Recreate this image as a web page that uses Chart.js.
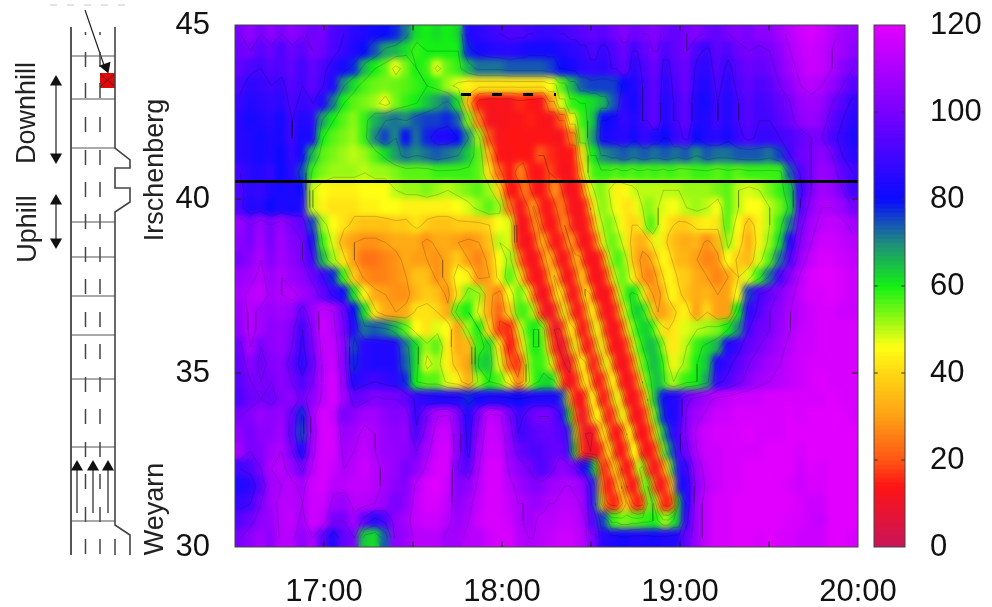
<!DOCTYPE html>
<html lang="en">
<head>
<meta charset="UTF-8" />
<title>Speed over time and location</title>
<script src="https://cdn.jsdelivr.net/npm/chart.js@4"></script>
<style>
  body { margin: 0; background: #fff; }
  #wrap { position: relative; width: 992px; height: 607px; overflow: hidden; }
  canvas { position: absolute; left: 0; top: 0; }
</style>
</head>
<body>
<div id="wrap">
  <canvas id="road" width="992" height="607"></canvas>
  <canvas id="main" width="992" height="607"></canvas>
  <canvas id="bar" width="992" height="607"></canvas>
</div>
<script>
// x axis in minutes after midnight
const timeTicks = [1020, 1080, 1140, 1200];
const kmTicks = [30, 35, 40, 45];
const colorTicks = [0, 20, 40, 60, 80, 100, 120];
const minorTimeTicks = [1020, 1050, 1080, 1110, 1140, 1170];
const colMinutes = [];
for (let i = 0; i < 60; i++) colMinutes.push(991.75 + 3.5 * i);
const rowKm = [44.75, 44.25, 43.75, 43.25, 42.75, 42.25, 41.75, 41.25, 40.75, 40.25, 39.75, 39.25, 38.75, 38.25, 37.75,
               37.25, 36.75, 36.25, 35.75, 35.25, 34.75, 34.25, 33.75, 33.25, 32.75, 32.25, 31.75, 31.25, 30.75, 30.25];

// speed in km/h, one row per rowKm entry, 60 columns
const speeds = [
  [100,105,100,104,100,104,101,98,100,92, 90,86,84,82,80,78,72,62,60,62, 60,62,84,86,88,90,92,92,90,88, 88,90,92,94,96,94,98,102,98,100, 102,98,96,100,102,98,96,100,102,100, 104,104,108,112,116,118,116,112,108,106],
  [98,100,94,98,92,98,94,100,98,92, 88,84,80,75,68,66,62,58,60,60, 60,60,78,82,84,85,86,84,82,82, 82,84,86,88,92,88,92,98,90,96, 100,92,96,100,92,88,96,92,98,100, 98,100,104,110,114,116,114,110,108,104],
  [96,92,90,94,92,96,90,96,92,86, 82,78,66,60,56,47,54,60,58,48, 55,58,66,72,72,72,74,74,74,74, 76,80,82,86,88,86,90,96,86,92, 98,88,94,98,88,86,94,88,94,98, 96,98,102,108,112,116,114,110,104,100],
  [92,86,88,90,88,94,90,96,90,84, 70,62,57,55,54,55,56,58,60,58, 52,48,44,42,42,42,42,42,42,42, 46,56,66,74,76,76,76,80,84,90, 96,86,92,98,86,84,92,86,92,96, 92,94,100,104,110,112,110,106,100,94],
  [88,84,86,88,86,92,88,90,84,72, 60,56,54,52,47,54,58,60,64,68, 72,62,36,15,12,13,12,16,14,12, 28,48,58,60,62,66,74,86,82,90, 96,84,90,96,84,82,90,84,90,94, 90,92,96,100,106,108,106,100,94,88],
  [86,82,84,86,82,90,84,86,68,60, 56,53,58,66,70,72,70,74,76,76, 78,74,54,26,12,12,13,13,15,13, 12,20,44,58,64,80,82,88,84,90, 96,84,90,96,84,84,90,84,90,94, 90,90,94,98,104,106,104,96,90,86],
  [86,84,82,84,82,90,82,84,60,56, 54,52,58,70,76,70,80,72,78,84, 84,80,70,52,20,12,14,14,13,14, 13,12,24,54,68,82,84,86,82,88, 84,80,88,92,80,84,86,82,88,92, 88,88,90,92,96,100,100,92,88,84],
  [86,84,82,84,80,88,82,66,56,54, 52,50,52,56,62,68,72,70,72,74, 72,70,64,56,34,14,13,14,14,20, 16,13,14,40,60,70,72,74,72,74, 72,74,72,74,70,74,72,72,74,74, 74,72,76,90,98,100,104,100,90,86],
  [90,86,84,88,80,86,76,58,54,52, 52,52,50,52,52,54,56,56,56,58, 58,58,58,56,42,22,14,30,14,16, 26,14,12,24,50,58,58,56,58,58, 58,56,58,56,58,58,56,58,56,58, 58,58,58,74,92,100,106,104,96,90],
  [92,86,88,84,82,84,80,50,46,44, 44,44,46,46,46,50,52,52,54,52, 50,52,54,56,52,40,14,13,30,16, 30,34,14,13,38,54,48,44,48,50, 50,50,50,52,52,52,54,56,50,48, 50,54,58,64,88,100,108,106,100,90],
  [92,84,86,80,84,82,84,50,44,42, 42,42,44,44,46,46,44,44,44,44, 44,46,48,52,56,52,24,12,26,14, 14,24,13,14,36,54,50,44,42,48, 50,48,46,50,52,50,46,56,50,46, 46,50,54,62,92,104,110,110,106,100],
  [106,100,106,100,106,100,96,76,52,46, 42,38,36,36,36,38,38,42,38,36, 36,38,38,38,40,46,48,22,13,26, 14,22,14,12,24,46,54,48,40,44, 54,46,40,38,42,44,42,56,46,36, 44,50,58,72,98,108,112,114,112,108],
  [104,100,108,100,108,102,100,84,58,48, 34,30,28,28,30,32,32,32,28,32, 32,30,28,30,36,50,48,28,12,18, 24,14,26,13,14,42,56,50,42,32, 42,48,38,32,34,28,34,52,44,32, 44,52,62,84,102,110,116,116,114,112],
  [100,104,110,102,108,104,100,90,66,52, 42,30,24,24,26,28,32,30,30,28, 32,38,30,26,32,46,52,40,14,12, 26,13,14,28,12,26,50,56,38,28, 34,46,44,34,30,26,28,46,38,34, 48,56,72,92,106,114,118,118,116,114],
  [106,108,112,106,110,106,104,98,90,78, 58,38,28,26,26,28,30,36,36,28, 32,46,44,28,30,44,56,50,16,12, 14,28,12,30,14,14,44,56,44,26, 28,38,46,38,32,30,26,30,40,48, 58,72,90,102,112,118,120,120,118,116],
  [108,112,114,108,110,112,108,104,96,88, 82,62,44,32,30,28,28,34,38,36, 28,42,54,52,32,26,46,56,46,14, 12,26,13,32,20,13,36,58,62,44, 30,32,44,36,32,34,30,30,46,76, 90,96,102,108,114,118,118,120,118,116],
  [106,112,108,106,108,106,96,106,114,110, 98,80,62,42,32,30,32,42,42,40, 32,56,60,48,32,22,38,56,54,24, 11,14,30,14,30,14,16,44,64,60, 36,30,38,44,30,40,30,30,60,86, 92,100,104,110,112,116,118,118,116,116],
  [104,112,108,104,106,102,90,102,116,112, 100,84,72,74,72,66,56,46,42,48, 46,30,52,60,40,18,16,46,60,40, 9,10,26,14,28,36,14,24,54,66, 52,44,44,48,50,52,54,60,70,90, 98,100,106,110,114,116,118,118,118,118],
  [98,110,100,104,106,100,88,100,114,114, 104,76,86,84,84,84,72,62,52,56, 44,32,34,58,62,42,14,36,58,60, 36,9,12,30,14,38,16,14,46,66, 72,58,44,50,58,62,66,84,88,96, 100,104,108,112,116,116,118,118,118,118],
  [96,104,98,102,104,96,86,96,112,116, 104,78,86,84,84,84,74,62,48,52, 44,36,30,62,64,48,22,20,56,58, 50,28,10,30,14,22,36,13,30,64, 72,62,44,52,60,64,84,88,94,100, 104,108,110,114,116,118,118,118,118,118],
  [94,100,100,100,104,100,92,100,112,118, 106,84,88,90,88,86,78,60,56,56, 48,44,32,52,60,56,44,30,52,60, 62,40,12,12,28,14,36,18,20,56, 64,62,50,58,60,68,88,92,98,104, 108,110,112,114,116,118,120,118,118,118],
  [92,98,100,98,102,104,98,104,112,118, 108,96,98,102,100,100,96,88,86,84, 84,84,78,82,84,84,82,80,84,84, 84,68,20,11,40,22,14,38,15,28, 64,80,82,98,104,108,112,114,116,116, 116,118,118,118,118,118,118,120,118,118],
  [100,102,106,104,106,98,78,108,118,116, 100,104,108,108,104,102,104,88,100,110, 112,102,84,100,114,112,100,88,96,100, 100,86,30,10,24,38,14,36,22,13, 50,80,84,102,108,112,116,116,118,118, 118,118,118,120,118,120,120,120,120,118],
  [104,100,104,104,108,96,76,106,118,118, 106,108,112,110,106,104,106,92,104,114, 116,104,86,104,116,114,104,90,94,96, 98,94,56,14,9,42,20,16,36,14, 28,66,84,102,112,116,118,118,118,120, 118,118,118,120,120,120,120,120,120,120],
  [108,100,102,108,110,100,84,108,118,118, 108,110,114,110,106,106,104,100,108,116, 118,104,88,108,116,116,106,98,90,94, 96,96,68,28,11,16,34,13,40,18, 20,52,76,98,110,116,116,118,118,118, 118,120,120,120,118,120,120,120,120,120],
  [90,92,100,110,112,106,98,112,118,116, 110,112,116,112,108,106,100,104,112,118, 118,100,94,110,118,118,108,102,92,92, 100,104,100,84,70,16,40,14,14,56, 18,14,52,88,106,114,116,118,118,120, 120,120,120,120,116,120,118,120,120,120],
  [84,86,94,108,110,112,108,116,118,112, 112,114,114,112,108,104,102,112,118,120, 116,102,104,112,118,118,112,106,100,104, 106,108,110,106,90,30,12,40,12,48, 50,12,34,84,104,112,116,118,118,120, 120,120,120,118,116,118,118,120,120,120],
  [88,90,100,108,112,112,110,116,116,108, 106,112,112,110,106,100,104,114,118,118, 114,104,108,114,118,118,114,108,104,110, 108,112,112,110,90,60,18,44,16,24, 56,20,24,84,106,114,118,118,120,120, 120,120,120,120,118,116,116,120,120,120],
  [94,98,104,106,112,114,108,116,114,100, 100,108,96,86,92,104,108,114,116,116, 112,106,110,116,118,118,116,110,108,112, 112,114,114,110,94,76,58,54,56,58, 60,52,62,88,106,114,118,118,120,120, 120,120,120,118,118,116,114,120,120,120],
  [100,104,108,104,112,112,104,110,96,84, 96,100,64,62,74,104,106,112,112,112, 108,108,112,112,116,118,118,112,110,112, 114,116,116,112,102,86,84,82,84,84, 82,84,84,96,106,114,118,118,120,120, 118,120,118,118,116,116,116,120,120,118]
];

// the jam stripes read at double resolution: rows 8..27, columns 27..42 split in two
const fineFirstRow = 8;
const fineFirstCol = 27;
const fineLastCol = 42;
const fineSpeeds = [
  [24,28,16,13,13,14,20,17,13,12,12,14,26,46,54,58, 58,58,58,56,58,58,56,58,58,56,58,58,56,58,58,56],
  [14,24,26,14,13,13,18,30,26,13,12,12,14,30,46,52, 54,52,48,44,44,46,48,50,50,50,50,50,50,50,50,50],
  [12,12,20,32,20,13,13,16,26,24,13,12,12,14,32,46, 54,52,50,46,44,42,42,46,50,54,52,50,48,47,46,47],
  [12,12,13,22,32,16,13,13,18,30,20,12,12,13,18,38, 48,54,54,50,46,42,40,40,44,54,58,50,46,42,40,38],
  [16,12,12,13,26,36,20,13,13,18,30,26,13,12,13,20, 40,50,56,54,50,44,38,34,32,36,42,48,44,38,36,34],
  [34,18,13,12,13,24,38,26,13,12,16,32,34,14,12,12, 14,34,50,58,56,50,40,32,28,28,32,40,46,44,38,34],
  [48,36,18,13,12,14,26,42,28,13,12,16,36,36,14,12, 12,16,36,50,56,54,46,38,30,26,26,32,40,46,44,38],
  [56,54,46,26,12,11,13,28,46,32,13,12,18,42,40,14, 12,12,14,34,50,58,62,60,48,36,30,28,32,42,46,42],
  [56,58,56,50,28,13,10,11,26,48,30,13,12,20,44,42, 16,12,12,16,36,50,60,64,62,56,40,30,30,34,38,42],
  [40,50,58,60,60,52,24,10,9,20,46,40,14,12,24,48, 42,16,12,12,16,38,50,60,62,64,60,50,42,40,42,44],
  [26,44,54,60,60,56,40,16,9,9,24,48,34,13,12,26, 48,36,14,12,12,16,38,52,60,64,66,62,54,44,42,44],
  [14,26,50,58,58,58,52,40,16,10,9,20,44,44,16,12, 26,48,40,14,12,12,18,40,54,60,66,64,60,50,44,48],
  [22,30,48,56,60,62,62,62,44,14,11,12,24,46,38,14, 12,22,46,42,14,12,12,20,42,56,62,66,62,54,50,54],
  [80,82,84,84,84,84,84,84,84,72,40,14,11,14,44,44, 14,12,26,48,42,14,12,12,20,42,60,70,80,84,84,84],
  [88,90,94,98,100,100,100,96,92,84,60,26,11,10,24,46, 44,16,12,26,48,42,14,12,12,22,48,62,78,84,84,82],
  [90,90,92,94,96,96,98,96,94,94,84,52,20,10,9,12, 34,46,16,12,14,42,46,14,12,14,26,50,64,76,86,88],
  [98,96,94,92,92,94,96,96,98,96,88,62,24,11,10,11, 13,32,44,14,12,16,46,46,14,12,14,24,52,66,76,88],
  [104,102,100,98,94,92,96,100,104,104,102,100,92,82,76,60, 22,13,26,44,18,12,14,46,56,24,12,12,22,44,66,86],
  [108,106,104,102,102,104,106,108,108,110,110,108,108,104,90,78, 40,14,13,26,42,18,12,14,48,60,30,12,12,20,44,80],
  [110,110,108,106,106,108,110,110,112,112,112,112,110,106,92,78, 50,22,16,14,28,42,22,14,16,50,62,40,16,14,22,60]
];

const contourLevels = [10, 20, 30, 40, 50, 60, 70, 80, 90, 100, 110];
const palette = [
  [0, 200, 20, 90], [14, 255, 20, 20], [20, 255, 85, 20], [30, 255, 160, 20], [40, 255, 215, 20], [46, 255, 255, 20],
  [60, 20, 240, 20], [70, 30, 140, 125], [80, 10, 10, 255], [100, 120, 0, 255], [120, 225, 0, 255]
];

// diagram on the left, in page pixels
const roadLeftEdge = [[71, 27], [71, 555]];
const roadRightEdge = [[115, 27], [115, 148], [130, 160], [130, 168], [115, 168], [115, 188], [130, 188], [130, 202], [115, 212], [115, 525], [130, 535], [130, 555]];
const crossBarY = [56, 99, 148, 222, 257, 296, 335, 379, 447, 521];
const dashYStart = [52, 83, 117, 150, 182, 214, 247, 279, 312, 344, 377, 409, 442, 474, 507, 539];
const laneX = [85.5, 100];
const sectionArrows = [[56, 76, 163], [56, 195, 248]];
const upArrowX = [77, 93, 108];
const roadLabels = ['Downhill', 'Uphill', 'Irschenberg', 'Weyarn'];
const roadLabelX = [35, 36, 163, 163];
const roadLabelY = [113, 229, 170, 509];

function speedColor(v) {
  let i = 0;
  while (i < palette.length - 2 && v > palette[i + 1][0]) i++;
  const a = palette[i], b = palette[i + 1];
  const t = Math.min(1, Math.max(0, (v - a[0]) / (b[0] - a[0])));
  const c = [1, 2, 3].map(k => Math.round(a[k] + (b[k] - a[k]) * t));
  return `rgb(${c[0]},${c[1]},${c[2]})`;
}

function flatten(segments) {
  const out = [];
  segments.forEach(s => {
    s.forEach(p => out.push({ x: p[0], y: p[1] }));
    out.push({ x: null, y: null });
  });
  return out;
}

// merge the coarse table and the fine one onto a single grid
const gridCols = [];
colMinutes.forEach((m, i) => {
  if (i < fineFirstCol || i > fineLastCol) gridCols.push({ x: m, half: 1.75, col: i, fine: -1 });
  else {
    const k = (i - fineFirstCol) * 2;
    gridCols.push({ x: m - 0.875, half: 0.875, col: i, fine: k });
    gridCols.push({ x: m + 0.875, half: 0.875, col: i, fine: k + 1 });
  }
});
const gridSpeeds = speeds.map((row, r) => gridCols.map(g => {
  const fr = fineSpeeds[r - fineFirstRow];
  return (g.fine >= 0 && fr) ? fr[g.fine] : row[g.col];
}));

// marching squares over the cell centres
function contourSegments() {
  const segs = [];
  const cross = (x1, y1, v1, x2, y2, v2, lv) => {
    const t = (lv - v1) / (v2 - v1);
    return [x1 + (x2 - x1) * t, y1 + (y2 - y1) * t];
  };
  contourLevels.forEach(lv => {
    for (let r = 0; r < gridSpeeds.length - 1; r++) {
      for (let c = 0; c < gridCols.length - 1; c++) {
        const x0 = gridCols[c].x, x1 = gridCols[c + 1].x, y0 = rowKm[r], y1 = rowKm[r + 1];
        const a = gridSpeeds[r][c], b = gridSpeeds[r][c + 1], d = gridSpeeds[r + 1][c], e = gridSpeeds[r + 1][c + 1];
        const pts = [];
        if ((a < lv) !== (b < lv)) pts.push(cross(x0, y0, a, x1, y0, b, lv));
        if ((b < lv) !== (e < lv)) pts.push(cross(x1, y0, b, x1, y1, e, lv));
        if ((e < lv) !== (d < lv)) pts.push(cross(x1, y1, e, x0, y1, d, lv));
        if ((d < lv) !== (a < lv)) pts.push(cross(x0, y1, d, x0, y0, a, lv));
        if (pts.length === 2) segs.push(pts);
        if (pts.length === 4) { segs.push([pts[0], pts[1]]); segs.push([pts[2], pts[3]]); }
      }
    }
  });
  return segs;
}

function tickSegments() {
  const segs = [];
  minorTimeTicks.forEach(t => { segs.push([[t, 30], [t, 30.15]]); segs.push([[t, 45], [t, 44.85]]); });
  [35, 40].forEach(k => { segs.push([[990, k], [992, k]]); segs.push([[1200, k], [1198, k]]); });
  return segs;
}

const cells = [];
gridSpeeds.forEach((row, r) => row.forEach((v, c) => {
  const g = gridCols[c];
  cells.push({ y: rowKm[r], x: [g.x - g.half, g.x + g.half], v: v });
}));

function line(data, color, width, extra) {
  return Object.assign({ type: 'scatter', data: data, showLine: true, borderColor: color, borderWidth: width,
    pointRadius: 0, spanGaps: false, order: 1, fill: false }, extra || {});
}

const fixedTicks = values => scale => { scale.ticks = values.map(v => ({ value: v })); };
const hhmm = v => String(Math.floor(v / 60)).padStart(2, '0') + ':' + String(v % 60).padStart(2, '0');

Chart.defaults.font.family = "'Liberation Sans', Arial, sans-serif";
Chart.defaults.font.size = 31;
Chart.defaults.color = '#111';
Chart.defaults.animation = false;
Chart.defaults.plugins.legend.display = false;
Chart.defaults.plugins.tooltip.enabled = false;

const smoothCells = {
  id: 'smoothCells',
  afterDatasetDraw(chart, args) {
    if (args.index !== 0) return;
    const a = chart.chartArea, ctx = chart.ctx;
    const w = a.right - a.left, h = a.bottom - a.top;
    ctx.save();
    ctx.beginPath();
    ctx.rect(a.left, a.top, w, h);
    ctx.clip();
    ctx.filter = 'blur(3px)';
    ctx.drawImage(chart.canvas, a.left, a.top, w, h, a.left, a.top, w, h);
    ctx.restore();
  }
};
const frame = {
  id: 'frame',
  afterDraw(chart) {
    const a = chart.chartArea, ctx = chart.ctx;
    ctx.save();
    ctx.strokeStyle = '#444';
    ctx.lineWidth = 1;
    ctx.strokeRect(a.left, a.top, a.right - a.left, a.bottom - a.top);
    ctx.restore();
  }
};
const noPad = s => { s.paddingTop = 0; s.paddingBottom = 0; };

new Chart(document.getElementById('main'), {
  type: 'bar',
  data: {
    datasets: [
      { type: 'bar', indexAxis: 'y', data: cells, backgroundColor: c => speedColor(c.raw.v), borderWidth: 0, inflateAmount: 1,
        categoryPercentage: 1, barPercentage: 1, grouped: false, order: 5 },
      line(flatten(contourSegments()), 'rgba(0,0,0,0.3)', 0.6, { order: 4 }),
      line(flatten(tickSegments()), '#222', 1.2, { order: 3 }),
      line([{ x: 990, y: 40.5 }, { x: 1200, y: 40.5 }], '#000', 3, { order: 2 }),
      line([{ x: 1066.2, y: 43 }, { x: 1098.2, y: 43 }], '#000', 3, { order: 1, borderDash: [10, 21] })
    ]
  },
  options: {
    responsive: false,
    layout: { padding: { top: 25, right: 134, left: 0, bottom: 0 }, autoPadding: false },
    scales: {
      x: {
        type: 'linear', min: 990, max: 1200, offset: false,
        grid: { display: false }, border: { display: false },
        afterBuildTicks: fixedTicks(timeTicks),
        afterFit: s => { s.height = 60; },
        ticks: { callback: v => hhmm(v), maxRotation: 0, autoSkip: false, padding: 19 }
      },
      y: {
        type: 'linear', min: 30, max: 45, offset: false,
        grid: { display: false }, border: { display: false },
        afterBuildTicks: fixedTicks(kmTicks),
        afterFit: s => { s.width = 235; noPad(s); },
        ticks: { padding: 17, autoSkip: false }
      }
    }
  },
  plugins: [smoothCells, frame]
});

const barCells = [];
for (let v = 0; v < 120; v++) barCells.push({ x: 0.5, y: [v, v + 1], v: v + 0.5 });
const barTicks = [];
colorTicks.slice(1, -1).forEach(v => {
  barTicks.push([[0, v], [0.12, v]]);
  barTicks.push([[1, v], [0.88, v]]);
});

new Chart(document.getElementById('bar'), {
  type: 'bar',
  data: {
    datasets: [
      { type: 'bar', data: barCells, backgroundColor: c => speedColor(c.raw.v), borderWidth: 0, inflateAmount: 0.5,
        barThickness: 31, grouped: false, order: 2 },
      line(flatten(barTicks), '#333', 1.2, { order: 1 })
    ]
  },
  options: {
    responsive: false,
    layout: { padding: { top: 25, left: 874, right: 0, bottom: 60 }, autoPadding: false },
    scales: {
      x: { type: 'linear', min: 0, max: 1, offset: false, display: false },
      y: {
        type: 'linear', position: 'right', min: 0, max: 120,
        grid: { display: false }, border: { display: false },
        afterBuildTicks: fixedTicks(colorTicks),
        afterFit: s => { s.width = 87; noPad(s); },
        ticks: { padding: 17, autoSkip: false }
      }
    }
  },
  plugins: [frame]
});

// road diagram
const dashes = [];
dashYStart.forEach(y => laneX.forEach(x => dashes.push([[x, y], [x, y + 15]])));
dashes.push([[115, 539], [115, 555]]);
dashes.push([[85.5, 32], [85.5, 35]], [[100, 32], [100, 35]]);
const bars = crossBarY.map(y => [[71, y], [115, y]]);
const shafts = sectionArrows.map(a => [[a[0], a[1] + 4], [a[0], a[2] - 4]]);
upArrowX.forEach(x => shafts.push([[x, 513], [x, 468]]));
shafts.push([[85, 10], [105, 68]]);
const headsUp = sectionArrows.map(a => ({ x: a[0], y: a[1] + 6 })).concat(upArrowX.map(x => ({ x: x, y: 467 })));
const headsDown = sectionArrows.map(a => ({ x: a[0], y: a[2] - 6 }));

const roadText = {
  id: 'roadText',
  afterDraw(chart) {
    const ctx = chart.ctx, sx = chart.scales.x, sy = chart.scales.y;
    ctx.save();
    ctx.font = "27px 'Liberation Sans', Arial, sans-serif";
    ctx.fillStyle = '#222';
    ctx.textAlign = 'center';
    roadLabels.forEach((t, i) => {
      ctx.save();
      ctx.translate(sx.getPixelForValue(roadLabelX[i]), sy.getPixelForValue(roadLabelY[i]));
      ctx.rotate(-Math.PI / 2);
      ctx.fillText(t, 0, 0);
      ctx.restore();
    });
    ctx.restore();
  }
};

new Chart(document.getElementById('road'), {
  type: 'scatter',
  data: {
    datasets: [
      line(flatten([roadLeftEdge]), '#555', 2),
      line(flatten([roadRightEdge]), '#444', 1.6),
      line(flatten(bars), '#555', 1.2),
      line(flatten(dashes), '#444', 1.5),
      line([{ x: 107.5, y: 73 }, { x: 107.5, y: 88 }], '#e00a0a', 15, { order: 2, borderCapStyle: 'butt' }),
      line(flatten([[[100, 74], [107.5, 80], [100, 87]], [[115, 74], [107.5, 80], [115, 87]]]), '#7a1010', 1),
      line(flatten(shafts), '#222', 1.2),
      line([{ x: 50, y: 5 }, { x: 131, y: 5 }], '#c8c8c8', 1, { borderDash: [7, 10] }),
      { type: 'scatter', data: headsUp, pointStyle: 'triangle', pointRadius: 7, backgroundColor: '#111', borderWidth: 0 },
      { type: 'scatter', data: headsDown, pointStyle: 'triangle', pointRotation: 180, pointRadius: 7, backgroundColor: '#111', borderWidth: 0 },
      { type: 'scatter', data: [{ x: 106, y: 67 }], pointStyle: 'triangle', pointRotation: 160, pointRadius: 7, backgroundColor: '#111', borderWidth: 0 }
    ]
  },
  options: {
    responsive: false,
    layout: { padding: 0, autoPadding: false },
    scales: {
      x: { type: 'linear', min: 0, max: 992, display: false },
      y: { type: 'linear', min: 0, max: 607, reverse: true, display: false }
    }
  },
  plugins: [roadText]
});
</script>
</body>
</html>
